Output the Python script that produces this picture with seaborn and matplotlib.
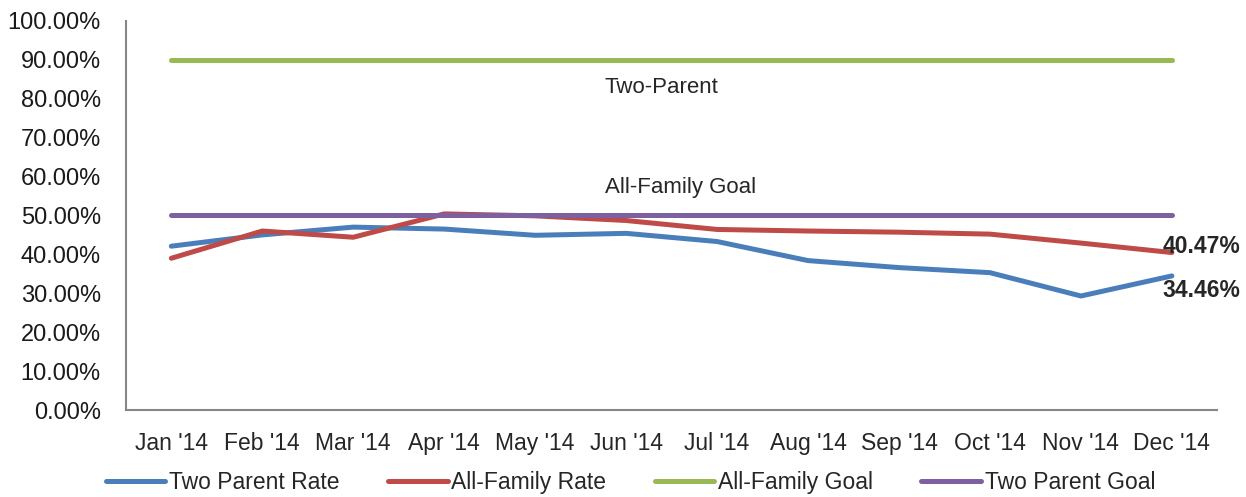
import pandas as pd
import matplotlib.pyplot as plt
import seaborn as sns

# Monthly rates (percent)
months = ["Jan '14", "Feb '14", "Mar '14", "Apr '14", "May '14", "Jun '14",
          "Jul '14", "Aug '14", "Sep '14", "Oct '14", "Nov '14", "Dec '14"]
two_parent_rate = [42.1, 45.0, 47.0, 46.5, 44.9, 45.4, 43.3, 38.4, 36.6, 35.3, 29.3, 34.46]
all_family_rate = [39.0, 46.0, 44.4, 50.4, 49.9, 48.7, 46.4, 46.0, 45.7, 45.2, 42.9, 40.47]
all_family_goal = [90.0] * 12
two_parent_goal = [50.0] * 12

series_names = ['Two Parent Rate', 'All-Family Rate', 'All-Family Goal', 'Two Parent Goal']
series_values = [two_parent_rate, all_family_rate, all_family_goal, two_parent_goal]
colors = ['#4A7EBB', '#BE4B48', '#98B954', '#7D60A0']

# Long format table for seaborn
rows = []
for name, vals in zip(series_names, series_values):
    for m, v in zip(months, vals):
        rows.append({'month': m, 'value': v, 'series': name})
df = pd.DataFrame(rows)

sns.set_style('white')
plt.rcParams['font.family'] = ['Liberation Sans', 'DejaVu Sans']

fig = plt.figure(figsize=(12.46, 4.97), dpi=100)
ax = fig.add_axes([0.101, 0.175, 0.876, 0.783])

sns.lineplot(data=df, x='month', y='value', hue='series', hue_order=series_names,
             palette=colors, linewidth=3.6, solid_capstyle='round', ax=ax, legend=True)

ax.set_xlim(-0.5, len(months) - 0.5)
ax.set_ylim(0, 100)
ax.set_yticks(range(0, 101, 10))
ax.set_yticklabels([f'{t:.2f}%' for t in range(0, 101, 10)], fontsize=17, color='#1a1a1a')
ax.set_xticks(range(len(months)))
ax.set_xticklabels(months, fontsize=16.5)
ax.tick_params(axis='both', length=0)
ax.tick_params(axis='x', pad=16)
ax.tick_params(axis='y', pad=18)
ax.set_xlabel('')
ax.set_ylabel('')

for side in ['top', 'right']:
    ax.spines[side].set_visible(False)
for side in ['left', 'bottom']:
    ax.spines[side].set_color('#868686')
    ax.spines[side].set_linewidth(1.5)

# Text labels on the chart
ax.text(5.39, 82.8, 'Two-Parent', ha='center', va='center', fontsize=16)
ax.text(5.6, 57.1, 'All-Family Goal', ha='center', va='center', fontsize=16)
ax.text(10.9, 41.9, f'{all_family_rate[-1]:.2f}%', ha='left', va='center',
        fontsize=16.5, fontweight='bold')
ax.text(10.9, 30.7, f'{two_parent_rate[-1]:.2f}%', ha='left', va='center',
        fontsize=16.5, fontweight='bold')

handles, labels = ax.get_legend_handles_labels()
ax.legend_.remove()
leg = fig.legend(handles, labels, loc='center', bbox_to_anchor=(0.506, 0.03), ncol=4,
                 frameon=False, handlelength=2.6, handletextpad=0.17, columnspacing=2.1,
                 prop={'size': 16.5})
for line in leg.get_lines():
    line.set_linewidth(3.6)

fig.savefig('out.png', dpi=100)
